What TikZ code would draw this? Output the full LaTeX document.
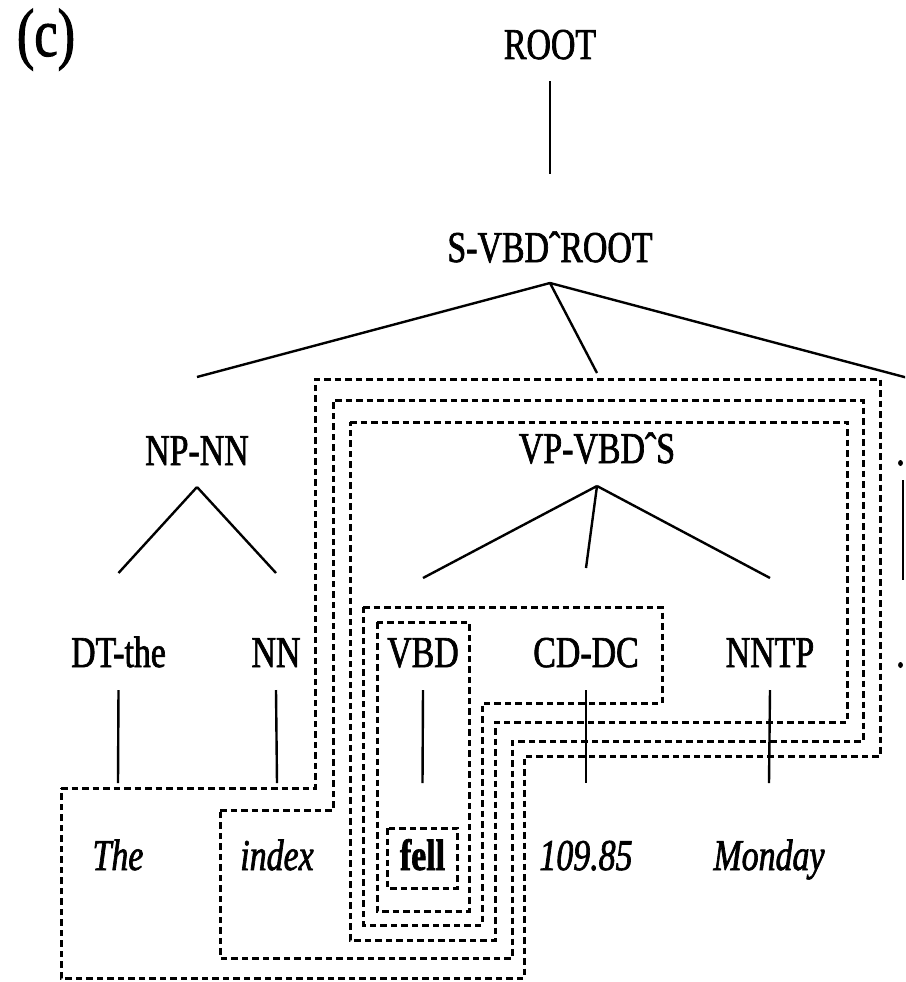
\documentclass[tikz,border=0pt]{standalone}
\usepackage{fontspec}
\setmainfont{Liberation Serif}[FakeStretch=0.77,FakeBold=1.5]
\tikzset{
  lbl/.style={anchor=base, inner sep=0pt, font=\fontsize{44}{50}\selectfont},
  leaf/.style={anchor=base, inner sep=0pt, font=\fontsize{44}{50}\selectfont\itshape},
  boldleaf/.style={anchor=base, inner sep=0pt, font=\fontsize{44}{50}\selectfont\bfseries},
  edge/.style={line width=2.4pt},
  region/.style={line width=3pt, dash pattern=on 6.5pt off 4pt},
}
\newcommand{\hatsym}{\char"02C6\relax}
\begin{document}
\begin{tikzpicture}[x=1pt,y=-1pt]
\useasboundingbox (0,0) rectangle (905,982);
\clip (0,0) rectangle (905,982);
% labels
\node[anchor=base, inner sep=0pt, font=\fontsize{68}{72}\selectfont] (lab) at (46,56) {(c)};
\node[lbl] (root) at (550,59) {ROOT};
\node[lbl] (s) at (550,262) {S-VBD\hatsym ROOT};
\node[lbl] (np) at (197,465) {NP-NN};
\node[lbl] (vp) at (597,463) {VP-VBD\hatsym S};
\node[lbl] (dotA) at (900.5,465) {.};
\node[lbl] (dt) at (118.5,667) {DT-the};
\node[lbl] (nn) at (276,667) {NN};
\node[lbl] (vbd) at (423,667) {VBD};
\node[lbl] (cd) at (586,667) {CD-DC};
\node[lbl] (nntp) at (770,667) {NNTP};
\node[lbl] (dotB) at (900.5,667) {.};
\node[leaf] (the) at (118,870) {The};
\node[leaf] (index) at (277,870) {index};
\node[boldleaf] (fell) at (422.5,870) {fell};
\node[leaf] (num) at (586,870) {109.85};
\node[leaf] (monday) at (769,870) {Monday};
% tree edges
\draw[edge] ([yshift=-22pt]root.base) -- ([yshift=88pt]s.base);
\draw[edge] ([yshift=-21pt]s.base) -- ([yshift=88pt]np.base);
\draw[edge] ([yshift=-21pt]s.base) -- ([yshift=90pt]vp.base);
\draw[edge, shorten >=-8pt] ([yshift=-21pt]s.base) -- ([yshift=89pt]dotA.base);
\draw[edge] ([yshift=-22pt]np.base) -- ([yshift=94pt]dt.base);
\draw[edge] ([yshift=-22pt]np.base) -- ([yshift=94pt]nn.base);
\draw[edge] ([yshift=-23pt]vp.base) -- ([yshift=89pt]vbd.base);
\draw[edge] ([yshift=-23pt]vp.base) -- ([yshift=99pt]cd.base);
\draw[edge] ([yshift=-23pt]vp.base) -- ([yshift=89pt]nntp.base);
\draw[edge] ([xshift=2.5pt,yshift=-15pt]dotA.base) -- ([xshift=2.5pt,yshift=87pt]dotB.base);
\draw[edge] ([yshift=-23pt]dt.base) -- ([yshift=87pt]the.base);
\draw[edge] ([yshift=-23pt]nn.base) -- ([yshift=87pt]index.base);
\draw[edge] ([yshift=-23pt]vbd.base) -- ([yshift=87pt]fell.base);
\draw[edge] ([yshift=-23pt]cd.base) -- ([yshift=87pt]num.base);
\draw[edge] ([yshift=-23pt]nntp.base) -- ([yshift=87pt]monday.base);
% dashed regions
\draw[region] (387,828) rectangle (457,888);
\draw[region] (377,622) rectangle (469,911);
\draw[region] (363,607) -- (662,607) -- (662,703) -- (482,703) -- (482,925) -- (363,925) -- cycle;
\draw[region] (350,422) -- (847,422) -- (847,722) -- (495,722) -- (495,940) -- (350,940) -- cycle;
\draw[region] (220,810) -- (333,810) -- (333,400) -- (863,400) -- (863,741) -- (512,741) -- (512,958) -- (220,958) -- cycle;
\draw[region] (61,788) -- (315,788) -- (315,379) -- (880,379) -- (880,756) -- (524,756) -- (524,978) -- (61,978) -- cycle;
\end{tikzpicture}
\end{document}
